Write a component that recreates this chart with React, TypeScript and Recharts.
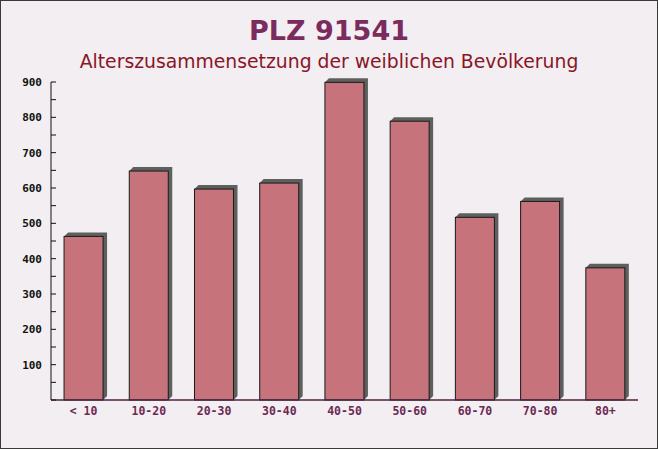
import React from 'react';
import { BarChart, Bar, XAxis, YAxis } from 'recharts';

const AGE_GROUPS = ['< 10', '10-20', '20-30', '30-40', '40-50', '50-60', '60-70', '70-80', '80+'];
const FEMALE_COUNTS = [463, 648, 597, 614, 899, 789, 517, 562, 374];
const Y_TICKS = [0, 50, 100, 150, 200, 250, 300, 350, 400, 450, 500, 550, 600, 650, 700, 750, 800, 850, 900];
const BOUNDARY_TICKS = [0, 1, 2, 3, 4, 5, 6, 7, 8, 9];

const chartData = AGE_GROUPS.map((group, i) => ({ group, count: FEMALE_COUNTS[i], idx: i + 0.5 }));

const ShadowBar = (props: any) => {
    const { x, y, width, height } = props;
    if (!height || height <= 0) return null;
    const d = 4;
    const shadow = [
        [x, y],
        [x + d, y - d],
        [x + width + d, y - d],
        [x + width + d, y + height - d],
        [x + width, y + height],
    ]
        .map((p) => p.join(','))
        .join(' ');
    return (
        <g>
            <polygon points={shadow} fill="#5e605e" />
            <rect x={x} y={y} width={width} height={height} fill="#c6737b" stroke="#1a1a1a" strokeWidth={1} />
        </g>
    );
};

export default function App() {
    return (
        <div style={{ position: 'relative', width: 658, height: 449, background: '#f2eef1', boxSizing: 'border-box', border: '1px solid #3a3a3a', overflow: 'hidden' }}>
            <style>{`body{margin:0}`}</style>
            <div style={{ position: 'absolute', top: 12, left: 0, width: 656, textAlign: 'center', fontFamily: '"DejaVu Sans", sans-serif', fontWeight: 'bold', fontSize: 27, color: '#7b2b5d', lineHeight: '36px' }}>
                PLZ 91541
            </div>
            <div style={{ position: 'absolute', top: 50, left: 0, width: 656, textAlign: 'center', fontFamily: '"DejaVu Sans", sans-serif', fontSize: 18.8, color: '#8a1526' }}>
                Alterszusammensetzung der weiblichen Bevölkerung
            </div>
            <div style={{ position: 'absolute', top: -1, left: -1 }}>
                <BarChart width={658} height={449} data={chartData} margin={{ top: 82, right: 20, left: 0, bottom: 0 }} barCategoryGap="20%">
                    <XAxis
                        xAxisId="grid"
                        dataKey="idx"
                        type="number"
                        domain={[0, 9]}
                        ticks={BOUNDARY_TICKS}
                        axisLine={false}
                        tickLine={{ stroke: '#4a2340' }}
                        tickSize={-5}
                        tickFormatter={() => ''}
                        height={0}
                    />
                    <XAxis
                        xAxisId="cat"
                        dataKey="group"
                        type="category"
                        axisLine={{ stroke: '#4a2340', strokeWidth: 1.5 }}
                        tickLine={false}
                        tickSize={0}
                        tickMargin={7}
                        height={49}
                        tick={{ fill: '#6b2a55', fontFamily: '"DejaVu Sans Mono", monospace', fontWeight: 'bold', fontSize: 11.5 }}
                    />
                    <YAxis
                        type="number"
                        domain={[0, 900]}
                        ticks={Y_TICKS}
                        interval={0}
                        width={51}
                        axisLine={{ stroke: '#111' }}
                        tickLine={{ stroke: '#111' }}
                        tickSize={-5}
                        tickMargin={14}
                        tickFormatter={(v: number) => (v > 0 && v % 100 === 0 ? String(v) : '')}
                        tick={{ fill: '#111', fontFamily: '"DejaVu Sans Mono", monospace', fontWeight: 'bold', fontSize: 11 }}
                    />
                    <Bar xAxisId="cat" dataKey="count" shape={ShadowBar} isAnimationActive={false} />
                </BarChart>
            </div>
        </div>
    );
}
